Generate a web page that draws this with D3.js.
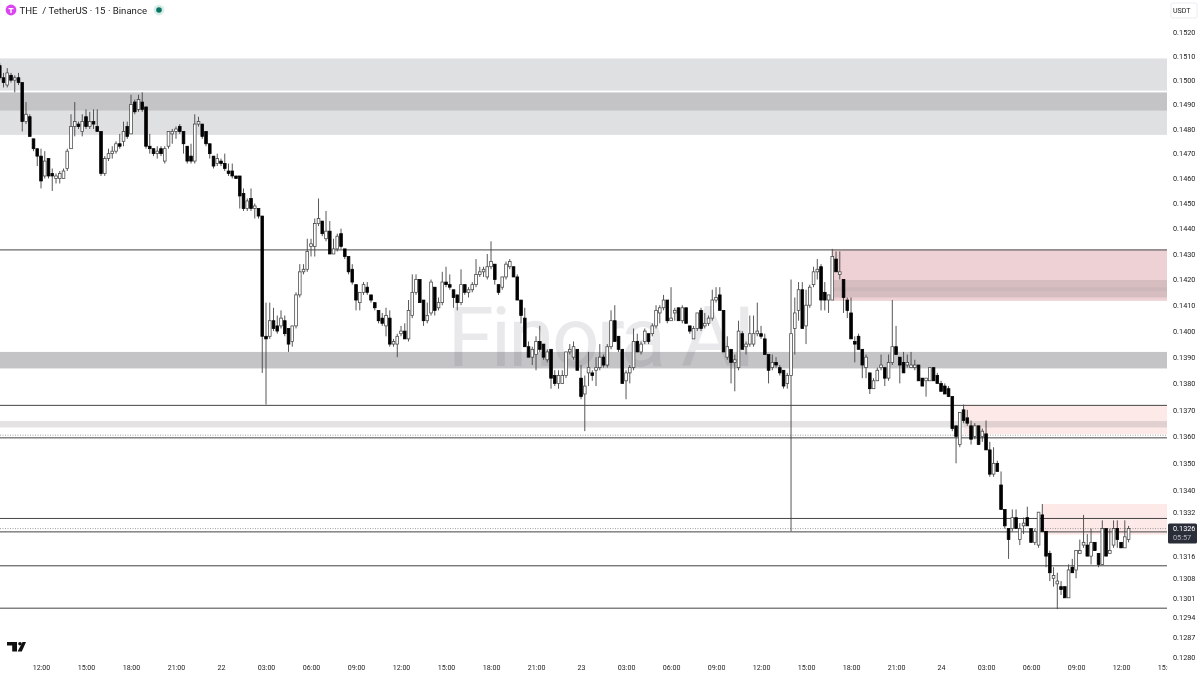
<!DOCTYPE html>
<html>
<head>
<meta charset="utf-8">
<script src="https://cdn.jsdelivr.net/npm/d3@7"></script>
<style>
    html, body { margin: 0; padding: 0; background: #fff; overflow: hidden; }
    svg { filter: blur(0.25px); }
    text { font-family: Roboto, "Open Sans", sans-serif; }
</style>
</head>
<body>
<svg id="chart" width="1200" height="675"></svg>
<script>
// prices in ticks of 0.0001, twelve candles (3h) per row
const opens = [
    1506,1501,1498,1502,1500,1501,1499,1483,1485,1476,1472,1469,
    1461,1468,1462,1460,1460,1460,1464,1472,1481,1482,1479,1485,
    1481,1483,1481,1479,1462,1468,1470,1471,1474,1475,1481,1478,
    1491,1488,1491,1489,1473,1472,1470,1472,1467,1473,1478,1479,
    1481,1479,1473,1469,1467,1482,1482,1479,1474,1469,1466,1467,
    1466,1463,1463,1461,1461,1454,1448,1452,1448,1448,1445,1398,
    1398,1404,1402,1402,1404,1401,1396,1402,1414,1423,1424,1433,
    1433,1442,1443,1436,1439,1430,1432,1438,1432,1429,1424,1418,
    1411,1415,1417,1414,1411,1408,1405,1402,1405,1395,1395,1399,
    1400,1397,1406,1415,1420,1412,1404,1407,1417,1409,1411,1419,
    1418,1416,1414,1411,1418,1415,1416,1418,1422,1423,1421,1425,
    1426,1418,1417,1421,1425,1425,1421,1412,1405,1394,1390,1391,
    1396,1395,1389,1393,1383,1380,1380,1383,1392,1390,1393,1382,
    1376,1384,1384,1385,1386,1390,1387,1394,1404,1398,1393,1381,
    1384,1386,1396,1392,1396,1399,1399,1402,1407,1409,1412,1404,
    1407,1409,1404,1409,1402,1397,1401,1408,1402,1403,1405,1412,
    1414,1408,1390,1393,1388,1386,1399,1394,1395,1395,1399,1399,
    1397,1391,1386,1388,1386,1385,1380,1383,1401,1408,1416,1402,
    1410,1418,1423,1425,1415,1412,1412,1428,1422,1420,1412,1407,
    1396,1398,1393,1386,1384,1378,1381,1386,1386,1382,1388,1394,
    1390,1388,1387,1386,1386,1387,1382,1381,1381,1386,1383,1380,
    1379,1378,1375,1364,1357,1370,1367,1364,1360,1364,1360,1361,
    1355,1346,1350,1342,1333,1326,1326,1330,1322,1327,1330,1326,
    1321,1320,1331,1325,1317,1308,1306,1305,1305,1301,1312,1311,
    1317,1320,1320,1316,1321,1317,1313,1326,1317,1320,1326,1321,1319,1322
];
const closes = [
    1501,1499,1503,1500,1501,1499,1483,1486,1477,1472,1469,1459,
    1467,1461,1461,1461,1462,1463,1471,1481,1483,1481,1483,1481,
    1483,1482,1479,1462,1468,1470,1471,1474,1473,1479,1477,1490,
    1487,1492,1488,1473,1472,1470,1471,1470,1472,1479,1479,1480,
    1479,1474,1467,1467,1482,1483,1477,1474,1470,1465,1468,1466,
    1464,1462,1461,1460,1453,1448,1451,1448,1449,1445,1398,1397,
    1404,1401,1400,1405,1399,1395,1402,1414,1423,1424,1431,1434,
    1442,1444,1438,1439,1430,1432,1437,1433,1429,1423,1419,1412,
    1415,1418,1415,1412,1409,1404,1403,1406,1395,1396,1398,1400,
    1397,1408,1415,1420,1411,1404,1406,1419,1408,1411,1419,1418,
    1417,1413,1411,1418,1415,1416,1418,1422,1423,1424,1425,1427,
    1420,1415,1421,1426,1427,1421,1412,1406,1394,1390,1393,1396,
    1393,1390,1392,1382,1380,1383,1383,1392,1393,1394,1385,1375,
    1379,1386,1383,1386,1390,1387,1394,1404,1396,1393,1380,1384,
    1386,1396,1392,1395,1400,1396,1402,1408,1409,1412,1404,1405,
    1408,1404,1409,1403,1400,1401,1407,1401,1403,1405,1412,1413,
    1408,1392,1394,1388,1389,1400,1393,1395,1399,1399,1400,1398,
    1391,1385,1388,1387,1384,1379,1383,1399,1407,1416,1401,1410,
    1417,1423,1424,1412,1412,1414,1429,1423,1423,1413,1408,1397,
    1395,1393,1387,1390,1378,1381,1385,1387,1382,1388,1394,1391,
    1387,1384,1388,1387,1387,1381,1379,1382,1386,1381,1380,1377,
    1376,1375,1363,1360,1369,1366,1365,1359,1364,1357,1362,1355,
    1346,1350,1347,1333,1327,1322,1330,1326,1326,1328,1327,1321,
    1325,1332,1325,1316,1310,1309,1307,1304,1301,1311,1310,1318,
    1318,1321,1316,1321,1318,1313,1326,1316,1318,1326,1322,1319,1323,1326
];
const highs = [
    1507,1503,1505,1503,1502,1503,1499,1491,1486,1476,1472,1472,
    1471,1468,1464,1462,1463,1464,1472,1486,1491,1483,1486,1488,
    1487,1488,1488,1479,1469,1472,1473,1475,1478,1483,1483,1494,
    1492,1494,1495,1489,1478,1472,1473,1473,1473,1479,1480,1481,
    1482,1479,1473,1474,1486,1485,1482,1479,1474,1469,1470,1468,
    1470,1466,1466,1461,1461,1456,1452,1456,1450,1448,1445,1411,
    1411,1409,1406,1408,1406,1401,1402,1415,1426,1426,1436,1436,
    1444,1452,1443,1447,1443,1436,1438,1440,1432,1429,1426,1418,
    1415,1419,1419,1414,1411,1408,1407,1409,1408,1397,1399,1402,
    1403,1412,1422,1422,1420,1412,1411,1420,1417,1413,1423,1425,
    1422,1416,1414,1424,1418,1417,1419,1428,1425,1425,1430,1435,
    1426,1418,1421,1427,1428,1425,1422,1412,1409,1396,1394,1398,
    1402,1395,1393,1393,1385,1385,1385,1392,1395,1396,1393,1387,
    1383,1392,1385,1390,1395,1391,1395,1408,1410,1398,1393,1385,
    1387,1401,1399,1396,1401,1399,1403,1410,1410,1414,1412,1417,
    1409,1409,1410,1409,1402,1402,1407,1409,1407,1406,1416,1417,
    1417,1408,1398,1393,1391,1404,1400,1396,1406,1406,1411,1402,
    1399,1391,1391,1390,1387,1385,1384,1420,1413,1419,1419,1416,
    1418,1425,1428,1426,1419,1414,1432,1431,1431,1420,1413,1413,
    1398,1399,1393,1391,1384,1382,1386,1391,1386,1391,1412,1402,
    1390,1392,1391,1392,1389,1387,1382,1382,1386,1386,1384,1381,
    1380,1379,1375,1364,1369,1372,1370,1366,1365,1364,1363,1366,
    1358,1356,1351,1347,1333,1326,1333,1333,1328,1330,1334,1326,
    1326,1332,1335,1325,1318,1312,1310,1307,1305,1313,1315,1318,
    1322,1331,1324,1326,1321,1317,1329,1326,1326,1329,1329,1321,1329,1327
];
const lows = [
    1500,1497,1497,1499,1495,1498,1479,1482,1477,1471,1465,1456,
    1460,1460,1455,1458,1458,1460,1463,1472,1477,1480,1477,1480,
    1480,1480,1479,1461,1461,1467,1468,1470,1472,1473,1476,1478,
    1486,1487,1487,1472,1470,1469,1468,1469,1466,1472,1474,1476,
    1478,1470,1466,1466,1466,1481,1476,1473,1468,1464,1465,1465,
    1463,1461,1460,1460,1448,1447,1447,1447,1444,1444,1384,1372,
    1397,1400,1399,1401,1398,1392,1394,1401,1413,1422,1423,1429,
    1429,1441,1437,1435,1430,1430,1431,1432,1428,1422,1418,1408,
    1408,1414,1414,1411,1408,1403,1402,1398,1394,1394,1390,1398,
    1397,1396,1405,1414,1411,1402,1403,1406,1406,1408,1410,1417,
    1416,1409,1408,1410,1414,1413,1415,1417,1421,1421,1420,1424,
    1418,1414,1416,1420,1424,1421,1412,1403,1394,1390,1387,1385,
    1392,1389,1388,1378,1379,1378,1380,1382,1391,1389,1385,1374,
    1362,1379,1381,1379,1385,1386,1386,1393,1396,1392,1380,1374,
    1380,1385,1392,1391,1395,1395,1398,1401,1403,1408,1403,1404,
    1404,1404,1403,1403,1399,1397,1400,1400,1401,1402,1404,1411,
    1408,1392,1389,1380,1377,1385,1393,1391,1394,1394,1398,1397,
    1391,1380,1385,1386,1383,1378,1378,1325,1391,1404,1401,1395,
    1409,1417,1420,1408,1408,1407,1412,1423,1420,1407,1405,1397,
    1388,1393,1382,1382,1376,1378,1381,1385,1379,1381,1387,1391,
    1380,1384,1386,1386,1385,1381,1379,1375,1381,1381,1380,1377,
    1376,1375,1362,1350,1356,1365,1364,1357,1359,1357,1358,1355,
    1345,1345,1347,1333,1326,1315,1325,1326,1320,1324,1327,1321,
    1320,1319,1325,1312,1307,1305,1297,1302,1301,1301,1310,1308,
    1317,1319,1316,1313,1318,1312,1313,1316,1317,1319,1319,1319,1319,1321
];

const priceTicks = [0.1520,0.1510,0.1500,0.1490,0.1480,0.1470,0.1460,0.1450,0.1440,0.1430,0.1420,0.1410,0.1400,
    0.1390,0.1380,0.1370,0.1360,0.1350,0.1340,0.1332,0.1316,0.1308,0.1301,0.1294,0.1287,0.1280];
const timeLabels = ['12:00','15:00','18:00','21:00','22','03:00','06:00','09:00','12:00','15:00','18:00','21:00',
    '23','03:00','06:00','09:00','12:00','15:00','18:00','21:00','24','03:00','06:00','09:00','12:00','15:00'];

// support / resistance levels and boxes [top price, bottom price, first candle]
const levels = [0.14316,0.13717,0.13595,0.13297,0.13248,0.13125,0.12973];
const dottedLevels = [0.13605,0.1326];
const lightZones = [[0.15090,0.14957,0],[0.14949,0.14776,0]];
const darkZones = [[0.14949,0.14875,0],[0.13920,0.13857,0]];
const rosyZones = [[0.14316,0.14117,222]];
const paleZones = [[0.13717,0.13609,257],[0.13350,0.13238,278]];
const overlayZones = [[0.14198,0.14130,222],[0.13658,0.13634,0]];
const stripeZones = [[0.14170,0.14155,222]];

const tickSize = 0.0001;
const currentPrice = 0.1326;
const lastIndex = 311.25; // right edge of the pane in candles

const candles = opens.map((open, i) => ({
    i: i,
    open: open * tickSize,
    close: closes[i] * tickSize,
    high: highs[i] * tickSize,
    low: lows[i] * tickSize
}));

const scale = {
    x: d3.scaleLinear().domain([0, lastIndex]).range([-0.25, 1167]),
    y: d3.scaleLog().domain([0.128, 0.152]).range([657, 32])
};

const svg = d3.select('#chart');

svg.append('rect').attr('width', 1200).attr('height', 675).attr('fill', '#fff');

svg.append('defs').append('clipPath').attr('id', 'pane')
    .append('rect').attr('x', 0).attr('y', 0).attr('width', 1168).attr('height', 675);

const pane = svg.append('g').attr('clip-path', 'url(#pane)');

function drawZones(zones, fill)
{
    pane.append('g').selectAll('rect').data(zones).join('rect')
        .attr('x', (d) => scale.x(d[2]))
        .attr('y', (d) => scale.y(d[0]))
        .attr('width', (d) => scale.x(lastIndex) - scale.x(d[2]))
        .attr('height', (d) => scale.y(d[1]) - scale.y(d[0]))
        .attr('fill', fill);
}

drawZones(lightZones, '#dfe0e2');
drawZones(darkZones, '#c4c4c6');
drawZones(rosyZones, '#eed1d4');
drawZones(paleZones, '#fce9e8');
drawZones(overlayZones, 'rgba(120,110,115,0.2)');
drawZones(stripeZones, 'rgba(120,110,115,0.07)');

// watermark sits over the zones but under the candles
pane.append('text')
    .attr('x', 600).attr('y', 366)
    .attr('text-anchor', 'middle')
    .attr('font-size', 84)
    .attr('font-weight', 400)
    .attr('letter-spacing', -3)
    .attr('fill', 'rgba(110,110,120,0.15)')
    .text('Finora AI');

pane.append('g').selectAll('line').data(levels).join('line')
    .attr('x1', 0).attr('x2', scale.x(lastIndex))
    .attr('y1', (d) => scale.y(d)).attr('y2', (d) => scale.y(d))
    .attr('stroke', '#444').attr('stroke-width', 1);

pane.append('g').selectAll('line').data(dottedLevels).join('line')
    .attr('x1', 0).attr('x2', scale.x(lastIndex))
    .attr('y1', (d) => scale.y(d)).attr('y2', (d) => scale.y(d))
    .attr('stroke', '#777').attr('stroke-width', 0.7).attr('stroke-dasharray', '1 1.5');

const candle = pane.append('g').selectAll('g').data(candles).join('g');

candle.append('line')
    .attr('x1', (d) => scale.x(d.i)).attr('x2', (d) => scale.x(d.i))
    .attr('y1', (d) => scale.y(d.high)).attr('y2', (d) => scale.y(d.low))
    .attr('stroke', '#444').attr('stroke-width', 0.9);

candle.append('rect')
    .attr('x', (d) => scale.x(d.i) - 1.35)
    .attr('width', 2.7)
    .attr('y', (d) => scale.y(Math.max(d.open, d.close)))
    .attr('height', (d) => Math.max(1, Math.abs(scale.y(d.open) - scale.y(d.close))))
    .attr('fill', (d) => d.close < d.open ? '#000' : '#fff')
    .attr('stroke', (d) => d.close < d.open ? '#000' : '#444')
    .attr('stroke-width', 0.75);

// price axis
const priceAxis = d3.axisRight(scale.y)
    .tickValues(priceTicks)
    .tickFormat(d3.format('.4f'))
    .tickSize(0)
    .tickPadding(0);

svg.append('g').attr('transform', 'translate(1173,0)').call(priceAxis)
    .call((g) => g.select('.domain').remove())
    .selectAll('text')
    .attr('font-size', 7.3).attr('font-family', 'Roboto').attr('fill', '#222');

// time axis, the last label is cut by the price scale
const timeAxis = d3.axisBottom(scale.x)
    .tickValues(timeLabels.map((d, i) => 11 + i * 12))
    .tickFormat((d, i) => timeLabels[i])
    .tickSize(0)
    .tickPadding(0);

svg.append('g').attr('clip-path', 'url(#pane)')
    .append('g').attr('transform', 'translate(0,665)').call(timeAxis)
    .call((g) => g.select('.domain').remove())
    .selectAll('text')
    .attr('font-size', 7.1).attr('font-family', 'Roboto').attr('fill', '#222');

// currency box
svg.append('rect')
    .attr('x', 1171).attr('y', 3).attr('width', 26).attr('height', 15).attr('rx', 2)
    .attr('fill', '#fff').attr('stroke', '#e6e8ee').attr('stroke-width', 0.8);
svg.append('text').attr('x', 1173).attr('y', 13)
    .attr('font-size', 7.1).attr('fill', '#222').text('USDT');

// last price tag
const tagY = scale.y(currentPrice);
svg.append('rect')
    .attr('x', 1168).attr('y', tagY - 5).attr('width', 29).attr('height', 20).attr('rx', 1.5)
    .attr('fill', '#2a2e39');
svg.append('text').attr('x', 1173).attr('y', tagY + 2.6)
    .attr('font-size', 7.3).attr('fill', '#fff').text('0.1326');
svg.append('text').attr('x', 1173).attr('y', tagY + 11.6)
    .attr('font-size', 7.3).attr('fill', '#b2b5be').text('05:57');

// header
svg.append('circle').attr('cx', 11).attr('cy', 10).attr('r', 5.4).attr('fill', '#d946ef');
svg.append('path').attr('d', 'M8.5 8 H13.5 V9.3 H11.7 V13 H10.3 V9.3 H8.5 Z').attr('fill', '#fff');
svg.append('text').attr('x', 19.5).attr('y', 13.5)
    .attr('font-size', 9.6).attr('fill', '#222').attr('xml:space', 'preserve')
    .text('THE  / TetherUS · 15 · Binance');
svg.append('circle').attr('cx', 159).attr('cy', 10).attr('r', 5.4).attr('fill', '#d8ece8');
svg.append('circle').attr('cx', 159).attr('cy', 10).attr('r', 2.8).attr('fill', '#0b7565');

// TV logo
svg.append('g').attr('fill', '#111').selectAll('path')
    .data(['M7 642 H17 V651.5 H12.2 V645.4 H7 Z', 'M22.5 642 H26 L21.8 651.5 H17.6 Z'])
    .join('path').attr('d', (d) => d);
svg.append('circle').attr('cx', 20).attr('cy', 643.8).attr('r', 1.8).attr('fill', '#111');
</script>
</body>
</html>
